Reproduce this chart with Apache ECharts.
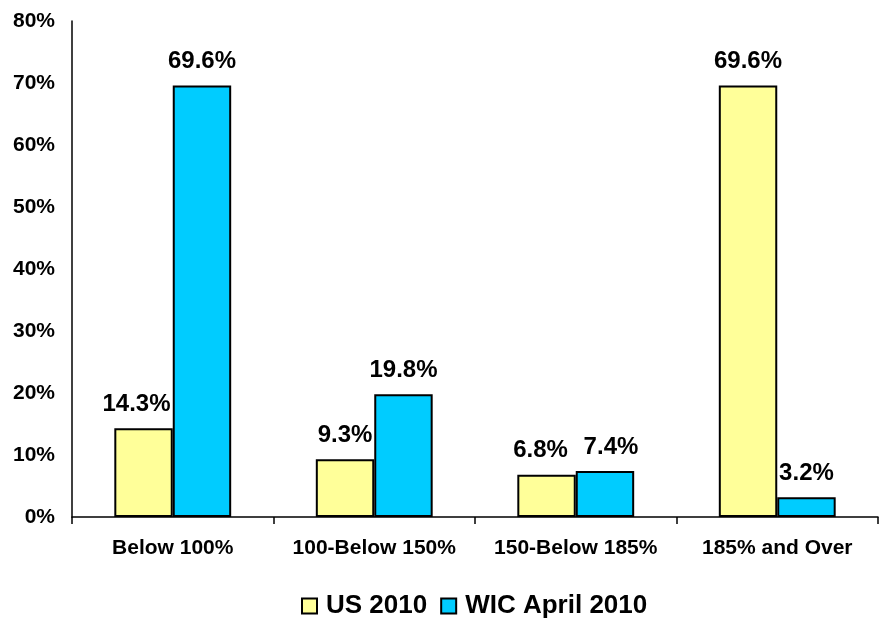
<!DOCTYPE html>
<html>
<head>
<meta charset="utf-8">
<script src="https://cdn.jsdelivr.net/npm/echarts@6/dist/echarts.min.js"></script>
<style>
  html, body { margin: 0; padding: 0; background: #fff; }
  #chart { width: 881px; height: 626px; }
</style>
</head>
<body>
<div id="chart"></div>
<script>
const categories = ['Below 100%', '100-Below 150%', '150-Below 185%', '185% and Over']
const us2010 = [14.3, 9.3, 6.8, 69.6]
const wic2010 = [69.6, 19.8, 7.4, 3.2]
const seriesNames = ['US 2010', 'WIC April 2010']

const font = 'Arial, "Liberation Sans", sans-serif'

const chart = echarts.init(document.getElementById('chart'))

function barLabel() {
  return {
    show: true,
    position: 'top',
    distance: 12,
    formatter: (p) => p.value.toFixed(1) + '%',
    color: '#000',
    fontFamily: font,
    fontWeight: 'bold',
    fontSize: 24,
  }
}

// nudge a few labels sideways so neighbours don't collide (like the original)
function withNudge(values, nudges) {
  return values.map((v, i) => (nudges[i] ? { value: v, label: { offset: [nudges[i], 0] } } : v))
}

chart.setOption({
  animation: false,
  textStyle: { fontFamily: font },
  legend: {
    data: seriesNames,
    bottom: 2,
    left: 296,
    icon: 'rect',
    itemWidth: 15,
    itemHeight: 15,
    itemGap: 13,
    itemStyle: { borderColor: '#000', borderWidth: 2 },
    textStyle: {
      color: '#000',
      fontWeight: 'bold',
      fontSize: 26,
      fontFamily: font,
      padding: [0, 0, 0, 4],
    },
  },
  grid: { left: 72, right: 3, top: 21, bottom: 109 },
  xAxis: {
    type: 'category',
    data: categories,
    axisLine: { lineStyle: { color: '#000', width: 1.5 } },
    axisTick: { show: true, length: 7, interval: 0, lineStyle: { color: '#000', width: 1.5 } },
    axisLabel: { interval: 0, color: '#000', fontWeight: 'bold', fontSize: 21, margin: 21, fontFamily: font },
  },
  yAxis: {
    type: 'value',
    min: 0,
    max: 80,
    interval: 10,
    axisLine: { show: true, lineStyle: { color: '#000', width: 1.5 } },
    axisTick: { show: false },
    splitLine: { show: false },
    axisLabel: {
      color: '#000',
      fontWeight: 'bold',
      fontSize: 21,
      margin: 17,
      fontFamily: font,
      formatter: '{value}%',
    },
  },
  series: [
    {
      name: seriesNames[0],
      type: 'bar',
      data: withNudge(us2010, [-7, 0, -6, 0]),
      barGap: '0%',
      barCategoryGap: '42%',
      itemStyle: { color: '#FFFF99', borderColor: '#000', borderWidth: 2 },
      label: barLabel(),
    },
    {
      name: seriesNames[1],
      type: 'bar',
      data: withNudge(wic2010, [0, 0, 6, 0]),
      itemStyle: { color: '#00CCFF', borderColor: '#000', borderWidth: 2 },
      label: barLabel(),
    },
  ],
})
</script>
</body>
</html>
